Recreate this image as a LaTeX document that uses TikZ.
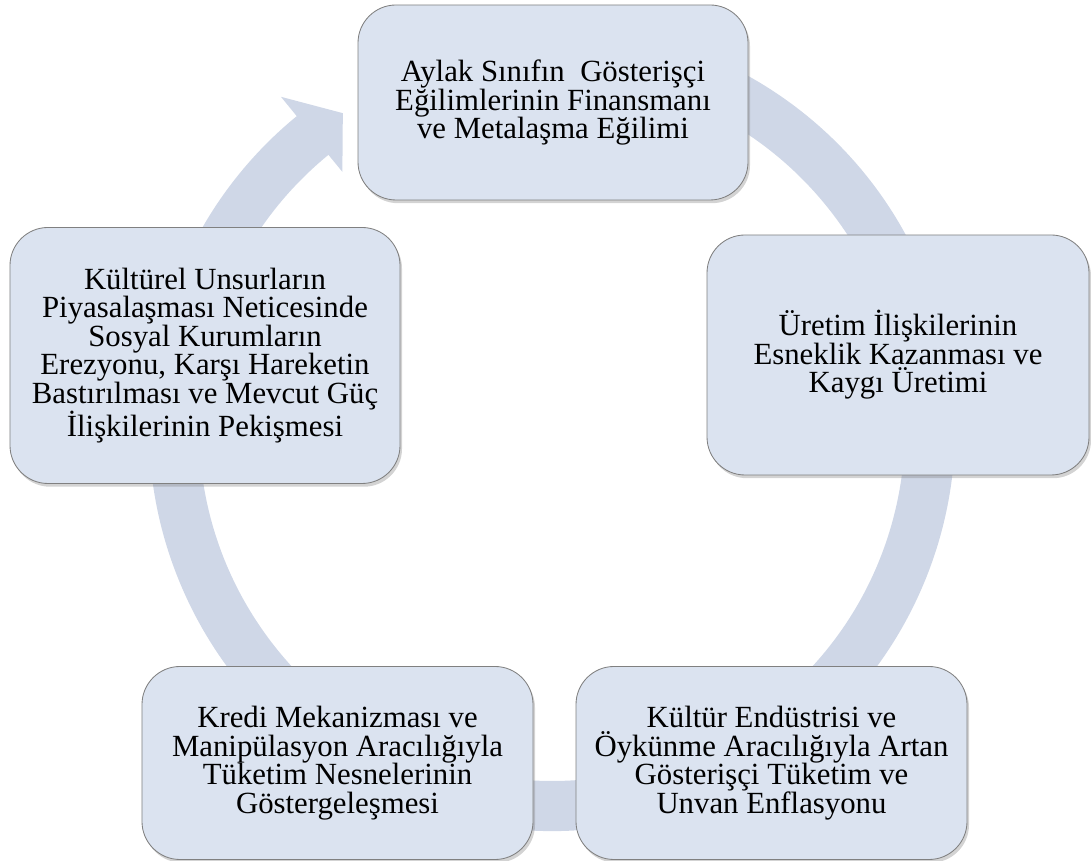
\documentclass[tikz,border=0pt]{standalone}
\usepackage{fontspec}
\setmainfont{Liberation Serif}
\usepackage{tikz}
\usetikzlibrary{shadows}
\definecolor{kutu}{RGB}{219,227,240}
\definecolor{halka}{RGB}{207,215,231}
\begin{document}
\begin{tikzpicture}[x=0.25mm,y=0.25mm,
  kutu/.style={draw=black!50,line width=0.6pt,fill=kutu,rounded corners=9.5mm,align=center,
    font=\fontsize{21.9}{20.3}\selectfont,
    drop shadow={opacity=0.35,shadow xshift=0.5mm,shadow yshift=-0.8mm}}]
\useasboundingbox (0,0) rectangle (1091,861);

% halka ok
\begin{scope}[shift={(552,433)}]
\fill[halka] (110:403) arc[start angle=110,end angle=-230.7,radius=403]
  -- (-230.7:428) -- (-236.4:378) -- (-230.7:331) -- (-230.7:353)
  arc[start angle=-230.7,end angle=110,radius=353] -- cycle;
\end{scope}

\node[kutu,minimum width=97.5mm,minimum height=48.75mm] (aylak) at (553,758.5)
  {Aylak Sınıfın\ \ Gösterişçi\\Eğilimlerinin Finansmanı\\ve Metalaşma Eğilimi};
\node[kutu,minimum width=95.5mm,minimum height=60mm] (uretim) at (898,506)
  {Üretim İlişkilerinin\\Esneklik Kazanması ve\\Kaygı Üretimi};
\node[kutu,minimum width=97.75mm,minimum height=48.25mm] (kultur) at (771.5,98)
  {Kültür Endüstrisi ve\\Öykünme Aracılığıyla Artan\\Gösterişçi Tüketim ve\\Unvan Enflasyonu};
\node[kutu,minimum width=97.75mm,minimum height=48.25mm] (kredi) at (337.5,98)
  {Kredi Mekanizması ve\\Manipülasyon Aracılığıyla\\Tüketim Nesnelerinin\\Göstergeleşmesi};
\node[kutu,minimum width=97.5mm,minimum height=64mm] (piyasa) at (205,505.5)
  {Kültürel Unsurların\\Piyasalaşması Neticesinde\\Sosyal Kurumların\\Erezyonu, Karşı Hareketin\\Bastırılması ve Mevcut Güç\\İlişkilerinin Pekişmesi};

\end{tikzpicture}
\end{document}
